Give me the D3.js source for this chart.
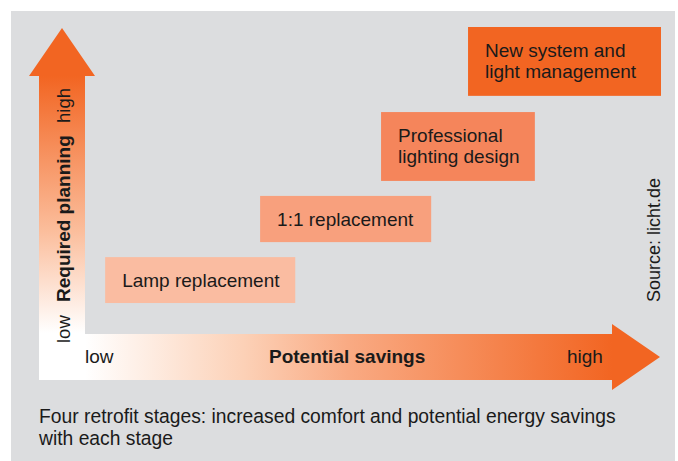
<!DOCTYPE html>
<html>
<head>
<meta charset="utf-8">
<script src="https://cdn.jsdelivr.net/npm/d3@7"></script>
<style>
  body { margin: 0; background: #fff; }
  svg { display: block; }
  text { font-family: "Liberation Sans", Arial, Helvetica, sans-serif; fill: #1a1a1a; }
</style>
</head>
<body>
<div id="chart"></div>
<script>
// retrofit stages, potential savings (x) and required planning (y) on a 0-100 scale
var stages = [["Lamp replacement"], ["1:1 replacement"], ["Professional", "lighting design"], ["New system and", "light management"]];
var savingsFrom = [3.5, 30.4, 51.4, 66.5];
var savingsTo = [36.5, 60.1, 78.1, 100];
var planningFrom = [9.8, 29.7, 49.7, 77.5];
var planningTo = [24.8, 44.8, 72.2, 100];
var stageColors = ["#fabca1", "#f8a07d", "#f5855b", "#f26522"];
var axisLow = "low", axisHigh = "high";
var xTitle = "Potential savings", yTitle = "Required planning";
var source = "Source: licht.de";
var caption = ["Four retrofit stages: increased comfort and potential energy savings", "with each stage"];

var width = 678, height = 461;

var svg = d3.select("#chart").append("svg")
  .attr("width", width)
  .attr("height", height);

// grey panel
svg.append("rect")
  .attr("x", 11).attr("y", 11)
  .attr("width", 664).attr("height", height - 11)
  .attr("fill", "#dcdddf");

var x = d3.scaleLinear().domain([0, 100]).range([85, 661]);
var y = d3.scaleLinear().domain([0, 100]).range([333, 27]);

var defs = svg.append("defs");
var gv = defs.append("linearGradient").attr("id", "gv")
  .attr("gradientUnits", "userSpaceOnUse")
  .attr("x1", 0).attr("y1", y(0)).attr("x2", 0).attr("y2", 76);
gv.append("stop").attr("offset", 0).attr("stop-color", "#ffffff");
gv.append("stop").attr("offset", 0.4).attr("stop-color", "#fbbd9b");
gv.append("stop").attr("offset", 1).attr("stop-color", "#f26522");

var gh = defs.append("linearGradient").attr("id", "gh")
  .attr("gradientUnits", "userSpaceOnUse")
  .attr("x1", x(0)).attr("y1", 0).attr("x2", 612).attr("y2", 0);
gh.append("stop").attr("offset", 0).attr("stop-color", "#ffffff");
gh.append("stop").attr("offset", 0.3).attr("stop-color", "#fcd1b7");
gh.append("stop").attr("offset", 0.5).attr("stop-color", "#f9aa83");
gh.append("stop").attr("offset", 1).attr("stop-color", "#f26522");

// vertical arrow (required planning)
var cx = 62, shaftV = 23, headV = 33;
svg.append("path")
  .attr("d", "M" + (cx - shaftV) + ",380 V76 H" + (cx - headV) + " L" + cx + "," + (y(100) + 1) +
    " L" + (cx + headV) + ",76 H" + (cx + shaftV) + " V380 Z")
  .attr("fill", "url(#gv)");

// horizontal arrow (potential savings)
var cy = 357, shaftH = 23, headH = 33;
svg.append("path")
  .attr("d", "M" + x(0) + "," + (cy - shaftH) + " H612 V" + (cy - headH) + " L660," + cy +
    " L612," + (cy + headH) + " V" + (cy + shaftH) + " H" + x(0) + " Z")
  .attr("fill", "url(#gh)");

// stage boxes
var boxes = svg.selectAll(".stage")
  .data(stages)
  .join("g")
  .attr("class", "stage");

boxes.append("rect")
  .attr("x", function(d, i) { return x(savingsFrom[i]); })
  .attr("y", function(d, i) { return y(planningTo[i]); })
  .attr("width", function(d, i) { return x(savingsTo[i]) - x(savingsFrom[i]); })
  .attr("height", function(d, i) { return y(planningFrom[i]) - y(planningTo[i]); })
  .attr("fill", function(d, i) { return stageColors[i]; });

boxes.each(function(d, i) {
  var mid = (y(planningFrom[i]) + y(planningTo[i])) / 2;
  var t = d3.select(this).append("text")
    .attr("x", x(savingsFrom[i]) + 17)
    .attr("y", d.length > 1 ? mid - 4.5 : mid + 6.5)
    .style("font-size", "19px");
  d.forEach(function(line, j) {
    t.append("tspan")
      .attr("x", x(savingsFrom[i]) + 17)
      .attr("dy", j === 0 ? 0 : 21.5)
      .text(line);
  });
});

// axis labels
svg.append("text").attr("x", 85).attr("y", 363).style("font-size", "19px").text(axisLow);
svg.append("text").attr("x", 269).attr("y", 363).style("font-size", "19px").style("font-weight", "bold").text(xTitle);
svg.append("text").attr("x", 567).attr("y", 363).style("font-size", "19px").text(axisHigh);

svg.append("text").attr("transform", "translate(70,343) rotate(-90)").style("font-size", "18.5px").text(axisLow);
svg.append("text").attr("transform", "translate(70,302) rotate(-90)").style("font-size", "19px").style("font-weight", "bold").text(yTitle);
svg.append("text").attr("transform", "translate(70,123) rotate(-90)").style("font-size", "18.5px").text(axisHigh);

svg.append("text").attr("transform", "translate(660,302) rotate(-90)").style("font-size", "18px").text(source);

svg.selectAll(".caption")
  .data(caption)
  .join("text")
  .attr("class", "caption")
  .attr("x", 39)
  .attr("y", function(d, i) { return 423 + i * 22; })
  .style("font-size", "19.3px")
  .text(function(d) { return d; });
</script>
</body>
</html>
